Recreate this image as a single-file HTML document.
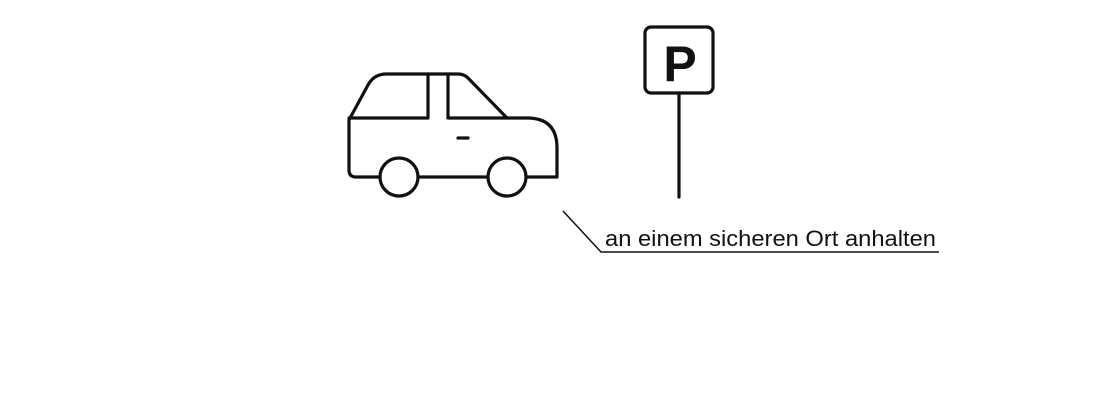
<!DOCTYPE html>
<html><head><style>body{margin:0;background:#fff;width:1100px;height:411px;overflow:hidden}</style></head><body>
<svg width="1100" height="411" xmlns="http://www.w3.org/2000/svg">
<g fill="none" stroke="#111" stroke-width="3.2" stroke-linejoin="round" stroke-linecap="round">
<path d="M380,177 H356 Q349,177 349,170 V120 L368,85 Q374,74 386,74 H458 Q464,74 468,78 L507,118 H527 Q557,118 557,148 V177 H526"/>
<path d="M488,177 H418"/>
<path d="M349,118 H428 V74 M448,74 V118 H507"/>
<path d="M458,138 H468"/>
<circle cx="399" cy="177" r="19"/>
<circle cx="507" cy="177" r="19"/>
<rect x="645" y="27" width="68" height="66" rx="6"/>
<path d="M679,93 V197"/>
</g>
<text x="680" y="81" font-family="Liberation Sans, sans-serif" font-size="50" font-weight="bold" text-anchor="middle" fill="#111">P</text>
<path d="M563,211 L601,252 H939" stroke="#111" stroke-width="1.5" fill="none"/>
<text x="605" y="246" font-family="Liberation Sans, sans-serif" font-size="22" textLength="331" lengthAdjust="spacingAndGlyphs" fill="#111">an einem sicheren Ort anhalten</text>
</svg>
</body></html>
